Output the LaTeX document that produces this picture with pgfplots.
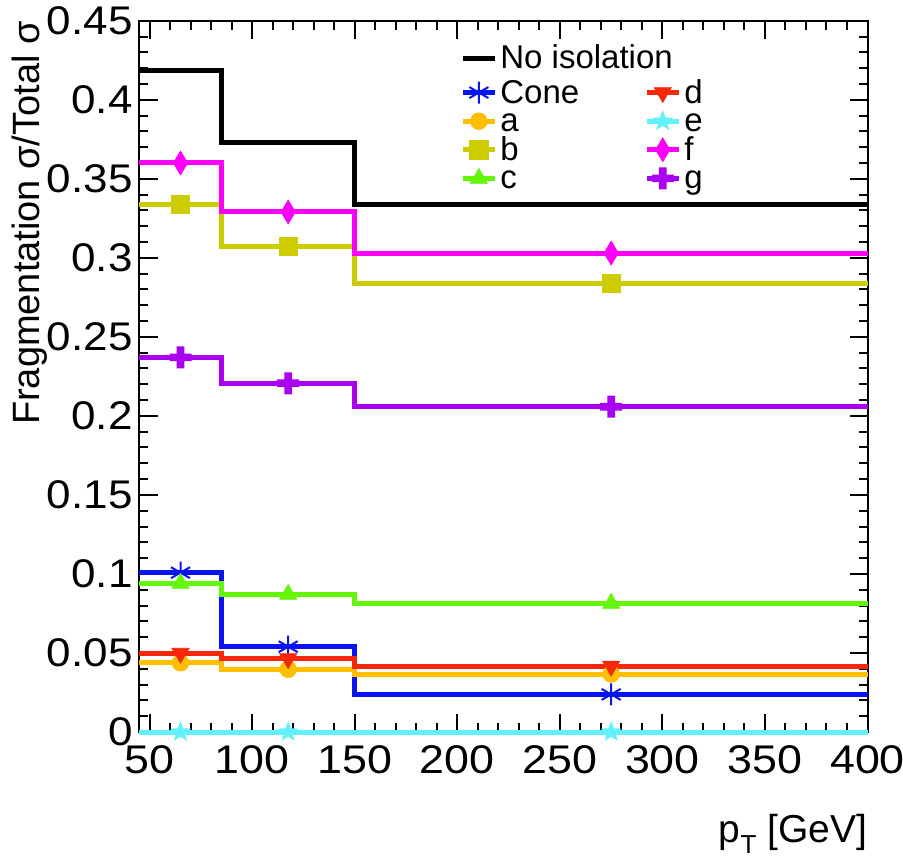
\documentclass[border=0pt]{standalone}
\usepackage{pgfplots}
\pgfplotsset{compat=1.18}
\usepackage{fontspec}
\setmainfont{Liberation Sans}
\definecolor{cBlue}{RGB}{10,20,240}
\definecolor{cA}{RGB}{255,190,0}
\definecolor{cB}{RGB}{204,204,0}
\definecolor{cC}{RGB}{100,245,10}
\definecolor{cD}{RGB}{245,40,10}
\definecolor{cE}{RGB}{100,240,250}
\definecolor{cF}{RGB}{250,0,250}
\definecolor{cG}{RGB}{170,0,240}
\newcommand{\ls}{\rule[-2.15pt]{0pt}{14.15pt}}
\pgfdeclareplotmark{fatcross}{%
  \pgfpathrectangle{\pgfqpoint{-\pgfplotmarksize}{-0.35\pgfplotmarksize}}{\pgfqpoint{2\pgfplotmarksize}{0.7\pgfplotmarksize}}%
  \pgfpathrectangle{\pgfqpoint{-0.35\pgfplotmarksize}{-\pgfplotmarksize}}{\pgfqpoint{0.7\pgfplotmarksize}{2\pgfplotmarksize}}%
  \pgfusepathqfill}
\pgfdeclareplotmark{fstar}{%
  \pgfpathmoveto{\pgfqpointpolar{90}{\pgfplotmarksize}}%
  \pgfpathlineto{\pgfqpointpolar{126}{0.42\pgfplotmarksize}}%
  \pgfpathlineto{\pgfqpointpolar{162}{\pgfplotmarksize}}%
  \pgfpathlineto{\pgfqpointpolar{198}{0.42\pgfplotmarksize}}%
  \pgfpathlineto{\pgfqpointpolar{234}{\pgfplotmarksize}}%
  \pgfpathlineto{\pgfqpointpolar{270}{0.42\pgfplotmarksize}}%
  \pgfpathlineto{\pgfqpointpolar{306}{\pgfplotmarksize}}%
  \pgfpathlineto{\pgfqpointpolar{342}{0.42\pgfplotmarksize}}%
  \pgfpathlineto{\pgfqpointpolar{18}{\pgfplotmarksize}}%
  \pgfpathlineto{\pgfqpointpolar{54}{0.42\pgfplotmarksize}}%
  \pgfpathclose\pgfusepathqfill}
\pgfplotsset{
  mybox/.style={at={(0pt,0pt)}, anchor=south west, scale only axis, width=364pt, height=355.65pt},
  mylegend/.style={
    legend cell align=left,
    legend image code/.code={\draw[mark repeat=2,mark phase=2,##1] plot coordinates {(0pt,0pt)(8pt,0pt)(16pt,0pt)};},
    legend style={draw=none, fill=none, inner sep=0pt, anchor=north west,
      font=\fontsize{16.5pt}{18pt}\selectfont,
      nodes={inner sep=0pt},
      /tikz/every even column/.append style={column sep=32.5pt},
      /tikz/every odd column/.append style={column sep=1.5pt},
      row sep=0.8pt}},
}
\begin{document}
\begin{tikzpicture}
\path[use as bounding box] (-69.75pt,-63pt) rectangle (381.75pt,366pt);
\begin{axis}[
  mybox,
  xmin=45, xmax=400, ymin=0, ymax=0.45,
  clip=false,
  xtick={50,100,...,400}, minor x tick num=4,
  ytick={0,0.05,0.1,0.15,0.2,0.25,0.3,0.35,0.4,0.45}, minor y tick num=4,
  scaled y ticks=false, scaled x ticks=false,
  tick align=inside,
  major tick length=9pt, minor tick length=4.5pt,
  tick style={black, line width=1pt},
  axis line style={line width=1pt},
  /pgf/number format/assume math mode=true,
  tick label style={font=\fontsize{20pt}{24pt}\selectfont},
  yticklabel style={/pgf/number format/fixed, /pgf/number format/precision=2, inner sep=0pt, anchor=east, xshift=-3.25pt, xscale=1.1},
  xticklabel style={inner sep=0pt, anchor=north, yshift=-6.5pt, xscale=1.12},
  ylabel={Fragmentation σ/Total σ},
  ylabel style={font=\fontsize{19pt}{22pt}\selectfont, at={(axis description cs:-0.1504,1)}, anchor=east, inner sep=0pt},
  xlabel={p\raisebox{-5.5pt}{\fontsize{13pt}{13pt}\selectfont T} [GeV]},
  xlabel style={font=\fontsize{19.5pt}{22pt}\selectfont, at={(axis description cs:1,-0.156)}, anchor=base east, inner sep=0pt},
  mylegend,
  legend columns=2,
  legend style={at={(0.4402,0.9185)}},
  every axis plot/.append style={line width=2.5pt},
]
% histogram steps (bin edges 45, 85, 150, 400)
\addplot[const plot, black, forget plot] coordinates {(45,0.4187) (85,0.3732) (150,0.334) (400,0.334)};
\addplot[const plot, cBlue, forget plot] coordinates {(45,0.1008) (85,0.054) (150,0.0238) (400,0.0238)};
\addplot[const plot, cA, forget plot] coordinates {(45,0.0438) (85,0.0397) (150,0.0367) (400,0.0367)};
\addplot[const plot, cB, forget plot] coordinates {(45,0.334) (85,0.3074) (150,0.2838) (400,0.2838)};
\addplot[const plot, cC, forget plot] coordinates {(45,0.094) (85,0.0871) (150,0.0814) (400,0.0814)};
\addplot[const plot, cD, forget plot] coordinates {(45,0.0498) (85,0.0464) (150,0.0417) (400,0.0417)};
\addplot[const plot, cE, forget plot] coordinates {(45,0) (85,0) (150,0) (400,0)};
\addplot[const plot, cF, forget plot] coordinates {(45,0.360) (85,0.329) (150,0.303) (400,0.303)};
\addplot[const plot, cG, forget plot] coordinates {(45,0.237) (85,0.2206) (150,0.2058) (400,0.2058)};
% markers at bin centres
\addplot[only marks, cBlue, mark=asterisk, mark size=5.5pt, mark options={line width=1pt}, forget plot] coordinates {(65,0.1008) (117.5,0.054) (275,0.0238)};
\addplot[only marks, cA, mark=*, mark size=4.2pt, mark options={line width=0.3pt}, forget plot] coordinates {(65,0.0438) (117.5,0.0397) (275,0.0367)};
\addplot[only marks, cB, mark=square*, mark size=4.6pt, mark options={line width=0.3pt}, forget plot] coordinates {(65,0.334) (117.5,0.3074) (275,0.2838)};
\addplot[only marks, cC, mark=triangle*, mark size=5pt, mark options={line width=0.3pt}, forget plot] coordinates {(65,0.094) (117.5,0.0871) (275,0.0814)};
\addplot[only marks, cD, mark=triangle*, mark size=5pt, mark options={line width=0.3pt, rotate=180}, forget plot] coordinates {(65,0.0498) (117.5,0.0464) (275,0.0417)};
\addplot[only marks, cE, mark=fstar, mark size=5.5pt, forget plot] coordinates {(65,0) (117.5,0) (275,0)};
\addplot[only marks, cF, mark=diamond*, mark size=6pt, mark options={line width=0.3pt, xscale=0.8}, forget plot] coordinates {(65,0.360) (117.5,0.329) (275,0.303)};
\addplot[only marks, cG, mark=fatcross, mark size=5.5pt, forget plot] coordinates {(65,0.237) (117.5,0.2206) (275,0.2058)};
% legend (two columns)
\addlegendimage{cBlue, line width=2.5pt, mark=asterisk, mark size=5.5pt, mark options={line width=1pt}}
\addlegendentry{\ls Cone}
\addlegendimage{cD, line width=2.5pt, mark=triangle*, mark size=5pt, mark options={line width=0.3pt, rotate=180}}
\addlegendentry{\ls d}
\addlegendimage{cA, line width=2.5pt, mark=*, mark size=4.2pt, mark options={line width=0.3pt}}
\addlegendentry{\ls a}
\addlegendimage{cE, line width=2.5pt, mark=fstar, mark size=5.5pt}
\addlegendentry{\ls e}
\addlegendimage{cB, line width=2.5pt, mark=square*, mark size=4.6pt, mark options={line width=0.3pt}}
\addlegendentry{\ls b}
\addlegendimage{cF, line width=2.5pt, mark=diamond*, mark size=6pt, mark options={line width=0.3pt, xscale=0.8}}
\addlegendentry{\ls f}
\addlegendimage{cC, line width=2.5pt, mark=triangle*, mark size=5pt, mark options={line width=0.3pt}}
\addlegendentry{\ls c}
\addlegendimage{cG, line width=2.5pt, mark=fatcross, mark size=5.5pt}
\addlegendentry{\ls g}
\end{axis}
% overlay axis holding the single-row "No isolation" legend entry
\begin{axis}[
  mybox, hide axis,
  xmin=0, xmax=1, ymin=0, ymax=1,
  mylegend,
  legend style={at={(0.4402,0.9666)}},
]
\addlegendimage{black, line width=2.5pt}
\addlegendentry{No isolation}
\end{axis}
\end{tikzpicture}
\end{document}
